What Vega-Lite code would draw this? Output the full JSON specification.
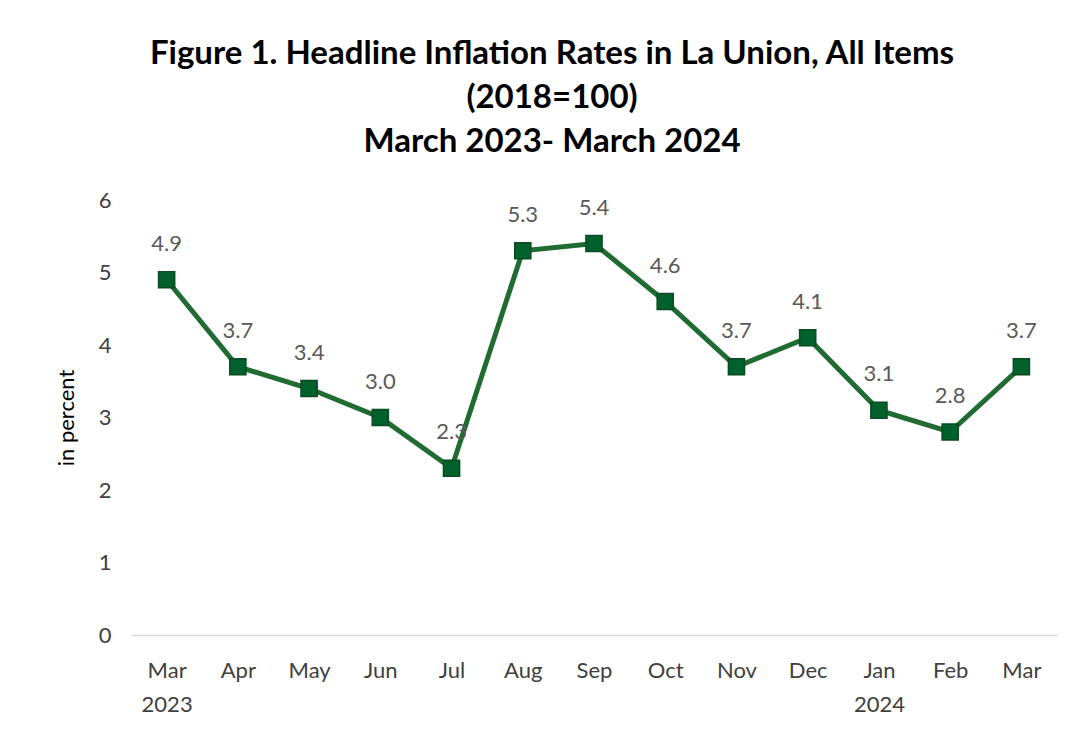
{
  "$schema": "https://vega.github.io/schema/vega-lite/v6.json",
  "width": 926,
  "height": 435,
  "autosize": {"type": "none"},
  "padding": {"left": 131, "top": 200, "right": 27, "bottom": 99},
  "background": "white",
  "title": {
    "text": ["Figure 1. Headline Inflation Rates in La Union, All Items", "(2018=100)", "March 2023- March 2024"],
    "font": "Lato",
    "fontSize": 33,
    "fontWeight": "bold",
    "color": "#000000",
    "lineHeight": 44,
    "anchor": "middle",
    "dx": -42,
    "offset": 30
  },
  "config": {
    "view": {"stroke": null},
    "font": "Lato"
  },
  "data": {
    "values": [
      {"month": "Mar 2023", "rate": 4.9},
      {"month": "Apr", "rate": 3.7},
      {"month": "May", "rate": 3.4},
      {"month": "Jun", "rate": 3.0},
      {"month": "Jul", "rate": 2.3},
      {"month": "Aug", "rate": 5.3},
      {"month": "Sep", "rate": 5.4},
      {"month": "Oct", "rate": 4.6},
      {"month": "Nov", "rate": 3.7},
      {"month": "Dec", "rate": 4.1},
      {"month": "Jan 2024", "rate": 3.1},
      {"month": "Feb", "rate": 2.8},
      {"month": "Mar", "rate": 3.7}
    ]
  },
  "encoding": {
    "x": {
      "field": "month",
      "type": "nominal",
      "sort": null,
      "scale": {"paddingInner": 0, "paddingOuter": 0.5},
      "axis": {
        "title": null,
        "labelAngle": 0,
        "labelExpr": "split(datum.value, ' ')",
        "labelFont": "Lato",
        "labelFontSize": 22,
        "labelColor": "#404040",
        "labelLineHeight": 34,
        "labelPadding": 25,
        "ticks": false,
        "domainColor": "#d9d9d9",
        "domainWidth": 1.5,
        "grid": false
      }
    },
    "y": {
      "field": "rate",
      "type": "quantitative",
      "scale": {"domain": [0, 6]},
      "axis": {
        "title": "in percent",
        "titleFont": "Lato",
        "titleFontSize": 22,
        "titleFontWeight": "normal",
        "titleColor": "#000000",
        "titlePadding": 20,
        "values": [0, 1, 2, 3, 4, 5, 6],
        "labelOverlap": false,
        "labelFont": "Lato",
        "labelFontSize": 22,
        "labelColor": "#404040",
        "labelPadding": 20,
        "ticks": false,
        "domain": false,
        "grid": false
      }
    }
  },
  "layer": [
    {
      "mark": {"type": "line", "color": "#1f6b32", "strokeWidth": 5},
      "encoding": {}
    },
    {
      "mark": {"type": "point", "shape": "square", "filled": true, "size": 260, "color": "#00612c", "stroke": "#0b4a22", "strokeWidth": 1.5, "opacity": 1},
      "encoding": {}
    },
    {
      "mark": {"type": "text", "dy": -36, "baseline": "middle", "font": "Lato", "fontSize": 22, "color": "#595959"},
      "encoding": {"text": {"field": "rate", "type": "quantitative", "format": ".1f"}}
    }
  ]
}
